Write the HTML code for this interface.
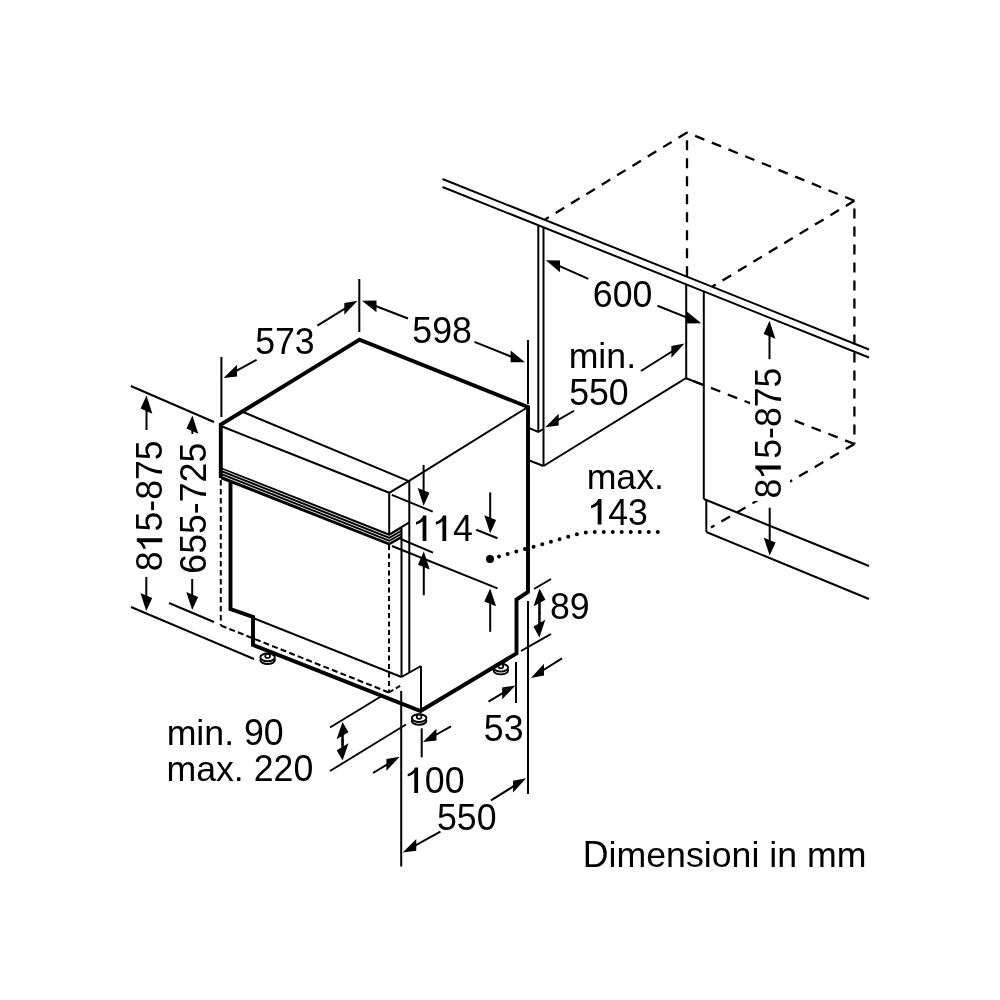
<!DOCTYPE html>
<html><head><meta charset="utf-8"><style>
html,body{margin:0;padding:0;background:#fff;width:1000px;height:1000px;overflow:hidden}
svg{display:block;will-change:transform}
text{font-family:"Liberation Sans",sans-serif;fill:#000;stroke:none}
</style></head><body>
<svg width="1000" height="1000" viewBox="0 0 1000 1000" stroke="#000" stroke-linecap="butt">
<line x1="442.5" y1="179" x2="869" y2="349.5" stroke-width="2.0"/>
<line x1="442.5" y1="187" x2="869" y2="357.5" stroke-width="2.0"/>
<line x1="687" y1="132.5" x2="545" y2="219.5" stroke-width="2.3" stroke-dasharray="10 8"/>
<line x1="854.4" y1="200.8" x2="687" y2="132.5" stroke-width="2.3" stroke-dasharray="10 8"/>
<line x1="687" y1="140.2" x2="687" y2="279" stroke-width="2.3" stroke-dasharray="10 8"/>
<line x1="854.4" y1="200.8" x2="712.5" y2="286.5" stroke-width="2.3" stroke-dasharray="10 8"/>
<line x1="854.4" y1="208.4" x2="854.4" y2="444" stroke-width="2.3" stroke-dasharray="10 8"/>
<line x1="854.4" y1="444" x2="686.2" y2="378.2" stroke-width="2.3" stroke-dasharray="10 8"/>
<line x1="686.2" y1="378.2" x2="704" y2="385.3" stroke-width="2.0"/>
<line x1="854.4" y1="444" x2="711" y2="527.5" stroke-width="2.3" stroke-dasharray="10 8"/>
<line x1="538.3" y1="225.5" x2="538.3" y2="431.5" stroke-width="2.0"/>
<line x1="543.5" y1="227.5" x2="543.5" y2="466" stroke-width="2.0"/>
<polyline points="528,427.6 538.3,431.9 543.5,429" stroke-width="2.0" fill="none" stroke-linejoin="miter"/>
<line x1="528" y1="460" x2="543.5" y2="466" stroke-width="2.0"/>
<line x1="543.5" y1="466" x2="686.2" y2="378" stroke-width="2.0"/>
<line x1="686.2" y1="284.5" x2="686.2" y2="378" stroke-width="2.0"/>
<line x1="703.8" y1="291.5" x2="703.8" y2="499" stroke-width="2.0"/>
<line x1="703.8" y1="499" x2="869" y2="566" stroke-width="2.0"/>
<line x1="706.3" y1="499.5" x2="706.3" y2="532" stroke-width="2.0"/>
<line x1="706.3" y1="532" x2="869" y2="599" stroke-width="2.0"/>
<ellipse cx="267.6" cy="660.1" rx="7.3" ry="3.9" fill="#fff" stroke-width="1.9"/>
<ellipse cx="267.6" cy="657.3" rx="7.3" ry="3.9" fill="#fff" stroke-width="1.9"/>
<ellipse cx="267.6" cy="655.9" rx="2.4" ry="2.1" fill="#fff" stroke-width="1.7"/>
<ellipse cx="419.1" cy="720.9" rx="7.3" ry="3.9" fill="#fff" stroke-width="1.9"/>
<ellipse cx="419.1" cy="718.0999999999999" rx="7.3" ry="3.9" fill="#fff" stroke-width="1.9"/>
<ellipse cx="419.1" cy="716.6999999999999" rx="2.4" ry="2.1" fill="#fff" stroke-width="1.7"/>
<ellipse cx="500.8" cy="670.5" rx="7.3" ry="3.9" fill="#fff" stroke-width="1.9"/>
<ellipse cx="500.8" cy="667.6999999999999" rx="7.3" ry="3.9" fill="#fff" stroke-width="1.9"/>
<ellipse cx="500.8" cy="666.3" rx="2.4" ry="2.1" fill="#fff" stroke-width="1.7"/>
<polyline points="220.8,478 220.8,424.7 359.5,339.7 528,407 528,592 516.5,599.5 516.5,653.5 420.5,711 253,645 253,617 230.5,609 230.5,479" stroke-width="3.9" fill="none" stroke-linejoin="miter"/>
<line x1="243" y1="412" x2="408.7" y2="481.1" stroke-width="2.0"/>
<line x1="220.8" y1="426" x2="389.2" y2="492.8" stroke-width="2.0"/>
<line x1="389.2" y1="492.8" x2="408.7" y2="481.1" stroke-width="2.0"/>
<line x1="408.7" y1="481.1" x2="528" y2="407" stroke-width="2.0"/>
<line x1="389.2" y1="492.8" x2="389.2" y2="534.5" stroke-width="2.0"/>
<line x1="409.3" y1="481" x2="409.3" y2="672" stroke-width="2.0"/>
<polygon points="220.8,467.2 389.2,533.4 401.5,526.4 401.5,538.6 389.2,545.6 220.8,479.2" fill="#000" stroke="none"/>
<polyline points="222.6,470.09999999999997 389.2,536.3 401.5,529.3" stroke="#fff" stroke-width="0.85" fill="none" stroke-linejoin="miter"/>
<polyline points="222.6,473.09999999999997 389.2,539.3 401.5,532.3" stroke="#fff" stroke-width="0.85" fill="none" stroke-linejoin="miter"/>
<polyline points="222.6,476.0 389.2,542.1999999999999 401.5,535.1999999999999" stroke="#fff" stroke-width="0.85" fill="none" stroke-linejoin="miter"/>
<line x1="389.2" y1="534.5" x2="409.3" y2="522.3" stroke-width="2.0"/>
<line x1="401.5" y1="527.5" x2="401.5" y2="677" stroke-width="2.0"/>
<line x1="389" y1="545" x2="389" y2="692.5" stroke-width="2.0" stroke-dasharray="5 3.5"/>
<line x1="253" y1="618" x2="401.5" y2="677" stroke-width="2.0"/>
<line x1="401.5" y1="677" x2="421" y2="666" stroke-width="2.0"/>
<line x1="421" y1="666" x2="421" y2="711" stroke-width="2.0"/>
<line x1="220.8" y1="480" x2="220.8" y2="625.5" stroke-width="2.0" stroke-dasharray="5.5 3.5"/>
<line x1="220.8" y1="625.5" x2="389" y2="692.5" stroke-width="2.1" stroke-dasharray="6 3.2"/>
<line x1="389" y1="692.5" x2="401.5" y2="685" stroke-width="2.0" stroke-dasharray="5 3"/>
<line x1="221.4" y1="357" x2="221.4" y2="417" stroke-width="2.0"/>
<line x1="359.3" y1="279" x2="359.3" y2="332" stroke-width="2.0"/>
<line x1="256.6" y1="359.8" x2="234.45" y2="371.98" stroke-width="2.0"/>
<polygon points="223.5,378 237.08,376.43 237.08,364.63" fill="#000" stroke="none"/>
<text transform="translate(255.17,354) translate(0.00,0) scale(1.0,1.055)" font-size="35.7">573</text>
<line x1="317.4" y1="325.6" x2="346.87" y2="307.37" stroke-width="2.0"/>
<polygon points="357.5,300.8 344.32,314.85 344.32,303.05" fill="#000" stroke="none"/>
<line x1="408" y1="318.5" x2="373.67" y2="305.29" stroke-width="2.0"/>
<polygon points="362,300.8 376.47,312.27 376.47,300.47" fill="#000" stroke="none"/>
<text transform="translate(412.32,342.5) translate(0.00,0) scale(1.0,1.055)" font-size="35.7">598</text>
<line x1="474.5" y1="341.9" x2="513.40" y2="357.54" stroke-width="2.0"/>
<polygon points="525,362.2 510.62,362.32 510.62,350.52" fill="#000" stroke="none"/>
<line x1="528" y1="340" x2="528" y2="404" stroke-width="2.0"/>
<line x1="588.4" y1="278.8" x2="557.26" y2="265.20" stroke-width="2.0"/>
<polygon points="545.8,260.2 560.01,272.30 560.01,260.50" fill="#000" stroke="none"/>
<text transform="translate(592.84,306.65) translate(0.00,0) scale(1.0,1.055)" font-size="35.7">600</text>
<line x1="657.5" y1="305.8" x2="689.68" y2="318.59" stroke-width="2.0"/>
<polygon points="701.3,323.2 686.90,323.38 686.90,311.58" fill="#000" stroke="none"/>
<line x1="574" y1="410.75" x2="556.09" y2="421.03" stroke-width="2.0"/>
<polygon points="545.25,427.25 558.69,425.43 558.69,413.63" fill="#000" stroke="none"/>
<text transform="translate(568.63,367.8) translate(0.00,0) scale(1.0,1.0)" font-size="35.7">min.</text>
<text transform="translate(569.17,404.6) translate(0.00,0) scale(1.0,1.055)" font-size="35.7">550</text>
<line x1="641" y1="371" x2="673.92" y2="350.26" stroke-width="2.0"/>
<polygon points="684.5,343.6 671.38,357.76 671.38,345.96" fill="#000" stroke="none"/>
<line x1="769.5" y1="359.2" x2="769.50" y2="333.30" stroke-width="2.0"/>
<polygon points="769.5,320.8 775.40,338.66 763.60,333.94" fill="#000" stroke="none"/>
<rect x="750" y="364" width="40" height="137" fill="#fff" stroke="none"/>
<text transform="translate(780.8,498.55) rotate(-90) translate(0.00,0) scale(1.0,1.055)" font-size="35.7">8</text>
<path transform="translate(780.8,498.55) rotate(-90) translate(19.85,0)" d="M13.1,0 L13.1,-25.5 L9.9,-25.5 Q8.6,-21.2 2.7,-19.0 L2.7,-16.3 Q6.9,-17.3 9.3,-19.9 L9.3,0 Z" fill="#000" stroke="none"/>
<text transform="translate(780.8,498.55) rotate(-90) translate(39.71,0) scale(1.0,1.055)" font-size="35.7">5-875</text>
<line x1="769.7" y1="507.7" x2="769.70" y2="543.10" stroke-width="2.0"/>
<polygon points="769.7,555.6 775.60,542.46 763.80,537.74" fill="#000" stroke="none"/>
<text transform="translate(586.63,488.5) translate(0.00,0) scale(1.0,1.0)" font-size="35.7">max.</text>
<path transform="translate(588.38,524.6) translate(0.00,0)" d="M13.1,0 L13.1,-25.5 L9.9,-25.5 Q8.6,-21.2 2.7,-19.0 L2.7,-16.3 Q6.9,-17.3 9.3,-19.9 L9.3,0 Z" fill="#000" stroke="none"/>
<text transform="translate(588.38,524.6) translate(19.85,0) scale(1.0,1.055)" font-size="35.7">43</text>
<circle cx="490" cy="559" r="4" fill="#000" stroke="none"/>
<path d="M499,556.5 L578,534 Q586,532 594,532 L661,532" fill="none" stroke-width="4" stroke-linecap="round" stroke-dasharray="0 9"/>
<line x1="130.8" y1="386" x2="214" y2="422" stroke-width="2.0"/>
<line x1="146.5" y1="430" x2="146.50" y2="408.10" stroke-width="2.0"/>
<polygon points="146.5,395.6 152.40,413.64 140.60,408.56" fill="#000" stroke="none"/>
<text transform="translate(162.3,571.30) rotate(-90) translate(0.00,0) scale(1.0,1.055)" font-size="35.7">8</text>
<path transform="translate(162.3,571.30) rotate(-90) translate(19.85,0)" d="M13.1,0 L13.1,-25.5 L9.9,-25.5 Q8.6,-21.2 2.7,-19.0 L2.7,-16.3 Q6.9,-17.3 9.3,-19.9 L9.3,0 Z" fill="#000" stroke="none"/>
<text transform="translate(162.3,571.30) rotate(-90) translate(39.71,0) scale(1.0,1.055)" font-size="35.7">5-875</text>
<line x1="146.3" y1="577" x2="146.30" y2="598.50" stroke-width="2.0"/>
<polygon points="146.3,611 152.20,597.98 140.40,593.02" fill="#000" stroke="none"/>
<line x1="131" y1="607" x2="254" y2="659" stroke-width="2.0"/>
<line x1="192.4" y1="434" x2="192.40" y2="428.10" stroke-width="2.0"/>
<polygon points="192.4,415.6 198.30,433.64 186.50,428.56" fill="#000" stroke="none"/>
<text transform="translate(206.1,573.71) rotate(-90) translate(0.00,0) scale(1.0,1.055)" font-size="35.7">655-725</text>
<line x1="192.2" y1="579" x2="192.20" y2="597.50" stroke-width="2.0"/>
<polygon points="192.2,610 198.10,596.98 186.30,592.02" fill="#000" stroke="none"/>
<line x1="169" y1="603" x2="214" y2="622" stroke-width="2.0"/>
<line x1="391.8" y1="494.8" x2="432.7" y2="511.7" stroke-width="2.0"/>
<line x1="423.6" y1="464.9" x2="423.60" y2="493.30" stroke-width="2.0"/>
<polygon points="423.6,505.8 429.50,492.72 417.70,487.88" fill="#000" stroke="none"/>
<path transform="translate(413.28,541.1) translate(0.00,0)" d="M13.1,0 L13.1,-25.5 L9.9,-25.5 Q8.6,-21.2 2.7,-19.0 L2.7,-16.3 Q6.9,-17.3 9.3,-19.9 L9.3,0 Z" fill="#000" stroke="none"/>
<path transform="translate(413.28,541.1) translate(19.85,0)" d="M13.1,0 L13.1,-25.5 L9.9,-25.5 Q8.6,-21.2 2.7,-19.0 L2.7,-16.3 Q6.9,-17.3 9.3,-19.9 L9.3,0 Z" fill="#000" stroke="none"/>
<text transform="translate(413.28,541.1) translate(39.71,0) scale(1.0,1.055)" font-size="35.7">4</text>
<line x1="400.6" y1="539" x2="433" y2="552.7" stroke-width="2.0"/>
<line x1="423.8" y1="595.2" x2="423.80" y2="564.10" stroke-width="2.0"/>
<polygon points="423.8,551.6 429.70,569.52 417.90,564.68" fill="#000" stroke="none"/>
<line x1="476.3" y1="529.8" x2="497.5" y2="538.3" stroke-width="2.0"/>
<line x1="490.2" y1="492.4" x2="490.20" y2="520.70" stroke-width="2.0"/>
<polygon points="490.2,533.2 496.10,520.06 484.30,515.34" fill="#000" stroke="none"/>
<line x1="392" y1="546" x2="497.5" y2="588.4" stroke-width="2.0"/>
<line x1="490.2" y1="631.8" x2="490.20" y2="600.90" stroke-width="2.0"/>
<polygon points="490.2,588.4 496.10,606.26 484.30,601.54" fill="#000" stroke="none"/>
<line x1="534" y1="589" x2="551" y2="579" stroke-width="2.0"/>
<line x1="521" y1="651" x2="551" y2="634" stroke-width="2.0"/>
<line x1="539.5" y1="614" x2="539.50" y2="600.00" stroke-width="2.0"/>
<polygon points="539.5,588.5 545.40,599.64 533.60,606.36" fill="#000" stroke="none"/>
<line x1="539.4" y1="612" x2="539.40" y2="626.10" stroke-width="2.0"/>
<polygon points="539.4,637.6 545.30,619.74 533.50,626.46" fill="#000" stroke="none"/>
<line x1="539.45" y1="600" x2="539.45" y2="626" stroke-width="2.0"/>
<text transform="translate(549.95,619.25) translate(0.00,0) scale(1.0,1.055)" font-size="35.7">89</text>
<line x1="516" y1="662" x2="516" y2="703" stroke-width="2.0"/>
<line x1="528" y1="601" x2="528" y2="794" stroke-width="2.0"/>
<line x1="488.5" y1="701.6" x2="504.76" y2="691.90" stroke-width="2.0"/>
<polygon points="515.5,685.5 502.19,699.34 502.19,687.54" fill="#000" stroke="none"/>
<line x1="562" y1="658.4" x2="541.49" y2="671.26" stroke-width="2.0"/>
<polygon points="530.9,677.9 544.03,675.57 544.03,663.77" fill="#000" stroke="none"/>
<text transform="translate(483.82,740.75) translate(0.00,0) scale(1.0,1.055)" font-size="35.7">53</text>
<line x1="421.7" y1="728.3" x2="421.7" y2="757.3" stroke-width="2.0"/>
<line x1="451" y1="726.4" x2="433.81" y2="736.00" stroke-width="2.0"/>
<polygon points="422.9,742.1 436.43,740.44 436.43,728.64" fill="#000" stroke="none"/>
<line x1="373" y1="773" x2="389.01" y2="763.28" stroke-width="2.0"/>
<polygon points="399.7,756.8 386.45,770.74 386.45,758.94" fill="#000" stroke="none"/>
<path transform="translate(404.98,792.9) translate(0.00,0)" d="M13.1,0 L13.1,-25.5 L9.9,-25.5 Q8.6,-21.2 2.7,-19.0 L2.7,-16.3 Q6.9,-17.3 9.3,-19.9 L9.3,0 Z" fill="#000" stroke="none"/>
<text transform="translate(404.98,792.9) translate(19.85,0) scale(1.0,1.055)" font-size="35.7">00</text>
<line x1="401.2" y1="691" x2="401.2" y2="866.5" stroke-width="2.0"/>
<line x1="440.4" y1="831.6" x2="413.64" y2="846.36" stroke-width="2.0"/>
<polygon points="402.7,852.4 416.27,850.81 416.27,839.01" fill="#000" stroke="none"/>
<line x1="491" y1="800.4" x2="515.61" y2="784.95" stroke-width="2.0"/>
<polygon points="526.2,778.3 513.07,792.44 513.07,780.64" fill="#000" stroke="none"/>
<text transform="translate(436.97,830) translate(0.00,0) scale(1.0,1.055)" font-size="35.7">550</text>
<line x1="330" y1="727.5" x2="381.7" y2="696" stroke-width="2.0"/>
<line x1="330" y1="771" x2="406" y2="724.5" stroke-width="2.0"/>
<line x1="342.5" y1="745" x2="342.50" y2="732.80" stroke-width="2.0"/>
<polygon points="342.5,722 348.40,732.26 336.60,739.34" fill="#000" stroke="none"/>
<line x1="342.6" y1="739" x2="342.60" y2="749.70" stroke-width="2.0"/>
<polygon points="342.6,760.5 348.50,743.16 336.70,750.24" fill="#000" stroke="none"/>
<line x1="342.55" y1="733" x2="342.55" y2="750" stroke-width="2.0"/>
<text transform="translate(166.63,744.5) translate(0.00,0) scale(1.0,1.0)" font-size="35.7">min. </text>
<text transform="translate(166.63,744.5) translate(77.36,0) scale(1.0,1.055)" font-size="35.7">90</text>
<text transform="translate(166.43,781) translate(0.00,0) scale(1.0,1.0)" font-size="35.7">max. </text>
<text transform="translate(166.43,781) translate(87.28,0) scale(1.0,1.055)" font-size="35.7">220</text>
<text transform="translate(582.82,866.5) translate(0.00,0) scale(1.0,1.055)" font-size="35.7">D</text>
<text transform="translate(582.82,866.5) translate(25.78,0) scale(1.0,1.0)" font-size="35.7">imensioni in mm</text>
</svg>
</body></html>
